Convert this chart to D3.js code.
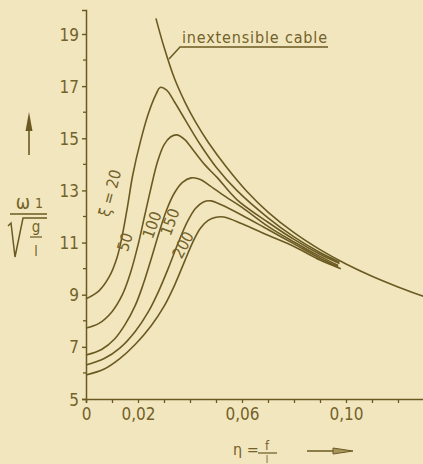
<!DOCTYPE html>
<html>
<head>
<meta charset="utf-8">
<script src="https://cdn.jsdelivr.net/npm/d3@7/dist/d3.min.js"></script>
<style>
  body { margin: 0; background: #f2e6bf; }
  svg { display: block; background: #f2e6bf; }
  .lbl { font-family: "Liberation Sans Narrow", "DejaVu Sans Condensed", "DejaVu Sans", sans-serif; font-stretch: condensed; fill: #72622a; }
  .curve { fill: none; stroke: #6a5a22; stroke-width: 1.6; }
</style>
</head>
<body>
<div id="chart"></div>
<script>
// chart values: eta = f/l, omega = w1 / sqrt(g/l)
var etaInext   = [0.0269, 0.030, 0.034, 0.038, 0.042, 0.047, 0.054, 0.062, 0.070, 0.080, 0.090, 0.100, 0.110, 0.120, 0.130];
var omegaInext = [19.6, 18.5, 17.3, 16.4, 15.65, 14.85, 13.9, 12.95, 12.17, 11.38, 10.73, 10.18, 9.71, 9.30, 8.93];

var eta20   = [0, 0.005, 0.009, 0.012, 0.014, 0.016, 0.018, 0.021, 0.024, 0.027, 0.0285, 0.031, 0.034, 0.0385, 0.044, 0.050, 0.058, 0.070, 0.080, 0.090, 0.0975];
var omega20 = [8.84, 9.15, 9.7, 10.45, 11.3, 12.4, 13.6, 14.9, 15.95, 16.7, 16.95, 16.85, 16.4, 15.65, 14.75, 13.9, 13.0, 11.95, 11.22, 10.62, 10.25];

var eta50   = [0, 0.005, 0.010, 0.014, 0.017, 0.020, 0.0225, 0.025, 0.0275, 0.030, 0.0325, 0.035, 0.038, 0.0412, 0.046, 0.0504, 0.058, 0.070, 0.080, 0.090, 0.0975];
var omega50 = [7.72, 7.9, 8.35, 9.0, 9.8, 10.9, 12.0, 13.1, 14.1, 14.75, 15.05, 15.13, 14.95, 14.55, 13.95, 13.5, 12.65, 11.78, 11.12, 10.55, 10.2];

var eta100   = [0, 0.006, 0.011, 0.015, 0.019, 0.022, 0.025, 0.028, 0.031, 0.034, 0.037, 0.0405, 0.044, 0.0473, 0.0538, 0.060, 0.070, 0.080, 0.090, 0.097];
var omega100 = [6.69, 6.9, 7.3, 7.85, 8.6, 9.4, 10.35, 11.35, 12.25, 12.9, 13.3, 13.48, 13.42, 13.2, 12.75, 12.35, 11.62, 11.02, 10.47, 10.12];

var eta150   = [0, 0.007, 0.013, 0.019, 0.024, 0.028, 0.032, 0.0355, 0.039, 0.042, 0.045, 0.048, 0.052, 0.060, 0.070, 0.080, 0.090, 0.097];
var omega150 = [6.3, 6.55, 6.95, 7.6, 8.35, 9.15, 10.1, 11.0, 11.8, 12.3, 12.55, 12.6, 12.45, 12.05, 11.5, 10.95, 10.4, 10.07];

var eta200   = [0, 0.007, 0.013, 0.019, 0.025, 0.030, 0.034, 0.038, 0.041, 0.044, 0.047, 0.050, 0.053, 0.060, 0.070, 0.080, 0.090, 0.098];
var omega200 = [5.92, 6.15, 6.55, 7.1, 7.8, 8.55, 9.35, 10.3, 11.0, 11.55, 11.85, 11.97, 11.98, 11.72, 11.28, 10.85, 10.33, 10.0];

var curveNames = ["20", "50", "100", "150", "200"];
var yMajor = [5, 7, 9, 11, 13, 15, 17, 19];
var yMinor = [6, 8, 10, 12, 14, 16, 18];
var xTicks = [0, 0.01, 0.02, 0.03, 0.04, 0.05, 0.06, 0.07, 0.08, 0.09, 0.10, 0.11, 0.12];
var xLabelled = [0, 0.02, 0.06, 0.10];

var width = 423, height = 464;
var ink = "#6a5a22";

var svg = d3.select("#chart").append("svg")
    .attr("width", width)
    .attr("height", height);

var x = d3.scaleLinear().domain([0, 0.13]).range([86, 424]);
var y = d3.scaleLinear().domain([5, 19.92]).range([399, 10]);

// y axis
var yAxis = d3.axisLeft(y).tickValues(yMajor).tickSize(4).tickPadding(3)
    .tickFormat(d3.format("d"));
var gy = svg.append("g").attr("transform", "translate(86,0)").call(yAxis);
gy.select(".domain").attr("stroke", ink).attr("stroke-width", 1.5);
gy.selectAll(".tick line").attr("stroke", ink).attr("stroke-width", 1.4);
gy.selectAll(".tick text").attr("class", "lbl").attr("font-size", 17).attr("dy", "0.36em");
gy.selectAll(".minor").data(yMinor).enter().append("line")
    .attr("x1", -3).attr("x2", 0)
    .attr("y1", function(d) { return y(d); }).attr("y2", function(d) { return y(d); })
    .attr("stroke", ink).attr("stroke-width", 1.3);

// x axis
var fmt = d3.format(".2f");
var xAxis = d3.axisBottom(x).tickValues(xTicks).tickSize(4).tickPadding(5)
    .tickFormat(function(d) {
        if (xLabelled.indexOf(d) < 0) return "";
        return d === 0 ? "0" : fmt(d).replace(".", ",");
    });
var gx = svg.append("g").attr("transform", "translate(0,399)").call(xAxis);
gx.select(".domain").attr("stroke", ink).attr("stroke-width", 1.5);
gx.selectAll(".tick line").attr("stroke", ink).attr("stroke-width", 1.3);
gx.selectAll(".tick text").attr("class", "lbl").attr("font-size", 17);

// curves
var line = d3.line()
    .x(function(d) { return x(d[0]); })
    .y(function(d) { return y(d[1]); })
    .curve(d3.curveCatmullRom.alpha(0.5));

var series = [
    [etaInext, omegaInext],
    [eta20, omega20],
    [eta50, omega50],
    [eta100, omega100],
    [eta150, omega150],
    [eta200, omega200]
];
series.forEach(function(s) {
    svg.append("path")
        .attr("class", "curve")
        .attr("d", line(d3.zip(s[0], s[1])));
});

// curve labels
var labelPos = [[110, 193, -75], [125, 242, -72], [152, 225, -70], [170, 222, -70], [183, 245, -62]];
curveNames.forEach(function(n, i) {
    var p = labelPos[i];
    svg.append("text")
        .attr("class", "lbl")
        .attr("font-size", 16)
        .attr("text-anchor", "middle")
        .attr("dominant-baseline", "central")
        .attr("transform", "translate(" + p[0] + "," + p[1] + ") rotate(" + p[2] + ")")
        .text(i === 0 ? "\u03BE = " + n : n);
});

// inextensible cable annotation
svg.append("text")
    .attr("class", "lbl")
    .attr("font-size", 16)
    .attr("x", 182).attr("y", 43)
    .attr("textLength", 145).attr("lengthAdjust", "spacing")
    .text("inextensible  cable");
svg.append("path")
    .attr("d", "M169,59 L180,47 L328,47")
    .attr("fill", "none").attr("stroke", ink).attr("stroke-width", 1.5);

// y axis label
svg.append("line").attr("x1", 29).attr("x2", 29).attr("y1", 155).attr("y2", 126)
    .attr("stroke", ink).attr("stroke-width", 1.6);
svg.append("path").attr("d", "M25.5,131 L29,112 L32.5,131 Z").attr("fill", ink);
svg.append("text").attr("class", "lbl").attr("font-size", 19)
    .attr("x", 23).attr("y", 209).attr("text-anchor", "middle").text("\u03C9");
svg.append("text").attr("class", "lbl").attr("font-size", 14)
    .attr("x", 39).attr("y", 208).attr("text-anchor", "middle").text("1");
svg.append("line").attr("x1", 10).attr("x2", 47).attr("y1", 214).attr("y2", 214)
    .attr("stroke", ink).attr("stroke-width", 1.5);
svg.append("path").attr("d", "M8,226 L11,223 L15,257 L23,218 L47,218")
    .attr("fill", "none").attr("stroke", ink).attr("stroke-width", 1.5);
svg.append("text").attr("class", "lbl").attr("font-size", 15)
    .attr("x", 36).attr("y", 232).attr("text-anchor", "middle").text("g");
svg.append("line").attr("x1", 30).attr("x2", 42).attr("y1", 237).attr("y2", 237)
    .attr("stroke", ink).attr("stroke-width", 1.2);
svg.append("text").attr("class", "lbl").attr("font-size", 14)
    .attr("x", 36).attr("y", 256).attr("text-anchor", "middle").text("l");

// x axis label
svg.append("text").attr("class", "lbl").attr("font-size", 16)
    .attr("x", 233).attr("y", 455).text("\u03B7 =");
svg.append("text").attr("class", "lbl").attr("font-size", 13)
    .attr("x", 267).attr("y", 450).attr("text-anchor", "middle").text("f");
svg.append("line").attr("x1", 258).attr("x2", 277).attr("y1", 453).attr("y2", 453)
    .attr("stroke", ink).attr("stroke-width", 1.2);
svg.append("text").attr("class", "lbl").attr("font-size", 10)
    .attr("x", 267).attr("y", 463).attr("text-anchor", "middle").text("l");
svg.append("line").attr("x1", 307).attr("x2", 335).attr("y1", 451).attr("y2", 451)
    .attr("stroke", ink).attr("stroke-width", 1.5);
svg.append("path").attr("d", "M333,448 L353,451 L333,454 Z")
    .attr("fill", "#a8955c").attr("stroke", ink).attr("stroke-width", 1);
</script>
</body>
</html>
